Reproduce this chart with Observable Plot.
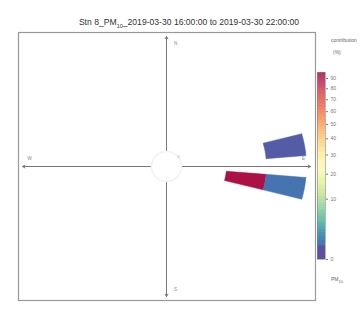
<!DOCTYPE html>
<html>
<head>
<meta charset="utf-8">
<script src="https://cdn.jsdelivr.net/npm/d3@7"></script>
<script src="https://cdn.jsdelivr.net/npm/@observablehq/plot@0.6"></script>
<style>
  html, body { margin: 0; padding: 0; background: #fff; }
  #wrap { position: relative; width: 363px; height: 320px; font-family: "Liberation Sans", Arial, sans-serif; color: #444; overflow: hidden; }
  .abs { position: absolute; white-space: nowrap; }
</style>
</head>
<body>
<div id="wrap">
  <div class="abs" id="title" style="left:0; width:378px; top:17px; text-align:center; font-size:8.6px; color:#333;"></div>
  <div class="abs" style="left:331px; top:37px; font-size:5px; color:#666;">contribution</div>
  <div class="abs" style="left:333px; top:49px; font-size:5px; color:#666;">(%)</div>
  <div class="abs" style="left:331px; top:276px; font-size:5px; color:#666;">PM<sub style="font-size:4px">10</sub></div>
</div>
<script>
// ---- data ----
const titleParts = ["Stn 8_PM", "10", "_2019-03-30 16:00:00 to 2019-03-30 22:00:00"];
const dirStart = [75, 95, 95];      // wedge direction start (deg from north)
const dirEnd = [85, 105, 105];      // wedge direction end
const wsLow = [5, 3, 5];            // inner radius (speed bin)
const wsHigh = [7, 5, 7];           // outer radius
const contribution = [0.05, 91, 0.4]; // colour value (%)
const colorTicks = [0, 10, 20, 30, 40, 50, 60, 70, 80, 90];
const colorMax = 96;
const axisExtent = 7.2;
const compassLabels = ["N", "E", "S", "W"];

document.getElementById("title").innerHTML =
  titleParts[0] + "<sub style='font-size:5.5px'>" + titleParts[1] + "</sub>" + titleParts[2];

const colorOpts = {type: "sqrt", scheme: "spectral", reverse: true, domain: [0, colorMax]};

// wedge polygons in data space (x = east, y = north)
const wedgePts = [];
dirStart.forEach((d0, i) => {
  const d1 = dirEnd[i];
  const steps = 6;
  const outer = d3.range(steps + 1).map(k => d0 + (d1 - d0) * k / steps);
  const inner = outer.slice().reverse();
  const push = (deg, r) => {
    const a = deg * Math.PI / 180;
    wedgePts.push({id: i, x: r * Math.sin(a), y: r * Math.cos(a), v: contribution[i]});
  };
  outer.forEach(a => push(a, wsHigh[i]));
  inner.forEach(a => push(a, wsLow[i]));
  push(d0, wsHigh[i]);
});

const axisEnds = [
  {x: axisExtent, y: 0}, {x: -axisExtent, y: 0},
  {x: 0, y: axisExtent}, {x: 0, y: -axisExtent}
];
const labelPos = [
  {t: compassLabels[0], x: 0.45, y: 6.8},
  {t: compassLabels[1], x: 6.85, y: 0.45},
  {t: compassLabels[2], x: 0.45, y: -6.8},
  {t: compassLabels[3], x: -6.85, y: 0.45}
];

const main = Plot.plot({
  width: 363, height: 320,
  marginLeft: 18, marginRight: 48, marginTop: 32, marginBottom: 20,
  x: {domain: [-7.4, 7.45], axis: null},
  y: {domain: [-7.42, 7.42], axis: null},
  color: colorOpts,
  style: {background: "transparent", fontFamily: "Liberation Sans, Arial, sans-serif"},
  marks: [
    Plot.frame({stroke: "#999", strokeWidth: 1.2}),
    Plot.line(wedgePts, {x: "x", y: "y", z: "id", fill: "v", stroke: "v", strokeWidth: 0.5, curve: "linear"}),
    Plot.arrow(axisEnds, {x1: 0, y1: 0, x2: "x", y2: "y", stroke: "#777", strokeWidth: 1, headLength: 4, bend: 0}),
    Plot.dot([{x: 0, y: 0}], {x: "x", y: "y", r: 15, fill: "white", stroke: "#f2f2f2"}),
    Plot.text(labelPos, {x: "x", y: "y", text: "t", fontSize: 4.5, fill: "#888"}),
    Plot.text([{x: 0.6, y: 0.55, t: "0"}], {x: "x", y: "y", text: "t", fontSize: 4, fill: "#aaa"})
  ]
});
main.style.position = "absolute";
main.style.left = "0px";
main.style.top = "0px";
document.getElementById("wrap").appendChild(main);

// colour bar
const ramp = d3.range(0, colorMax, 0.5);
const bar = Plot.plot({
  width: 53, height: 215,
  marginLeft: 7, marginRight: 38, marginTop: 12, marginBottom: 16,
  x: {domain: [0, 1], axis: null},
  y: {type: "sqrt", domain: [0, colorMax]},
  color: colorOpts,
  style: {background: "transparent", fontFamily: "Liberation Sans, Arial, sans-serif"},
  marks: [
    Plot.rect(ramp, {x1: 0, x2: 1, y1: d => d, y2: d => Math.min(colorMax, d + 0.6), fill: d => d}),
    Plot.frame({stroke: "#888", strokeWidth: 0.6}),
    Plot.axisY({anchor: "right", ticks: colorTicks, tickSize: 2, tickPadding: 3, fontSize: 5, label: null, color: "#777"})
  ]
});
bar.style.position = "absolute";
bar.style.left = "310px";
bar.style.top = "60px";
document.getElementById("wrap").appendChild(bar);
</script>
</body>
</html>
